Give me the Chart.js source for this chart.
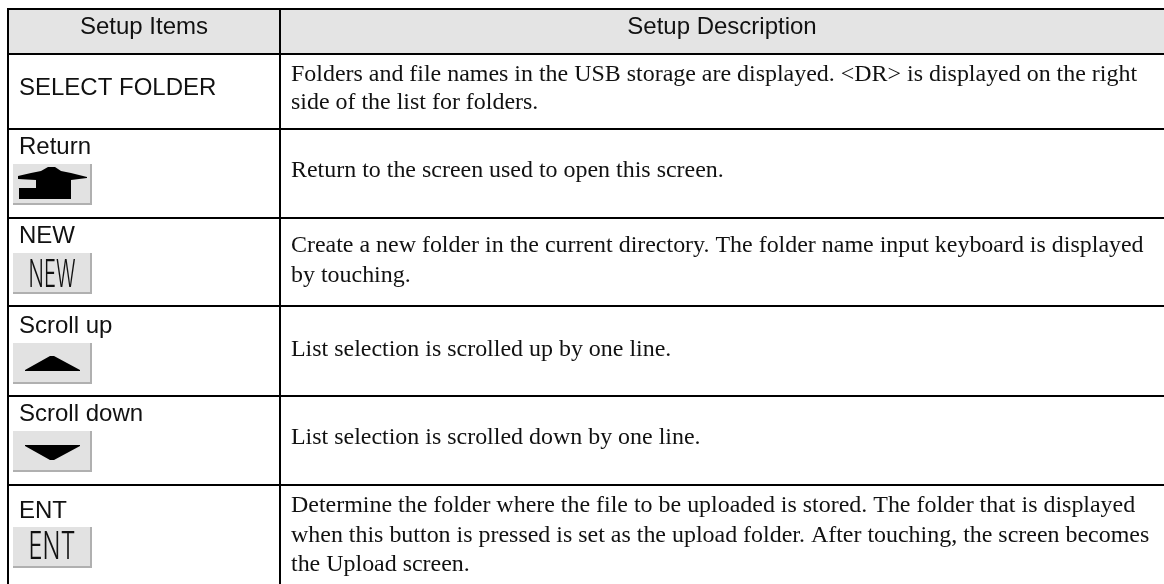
<!DOCTYPE html>
<html>
<head>
<meta charset="utf-8">
<style>
  html, body { margin: 0; padding: 0; background: #fff; }
  canvas { display: block; }
</style>
<script src="https://cdn.jsdelivr.net/npm/chart.js@4"></script>
</head>
<body>
<canvas id="tableChart" width="1164" height="584"></canvas>
<script>
// table rules, in axis units
const columnEdges = [8, 280];
const rowEdges = [9, 54, 129, 218, 306, 396, 485];

const headers = ['Setup Items', 'Setup Description'];
const itemLabels = ['SELECT FOLDER', 'Return', 'NEW', 'Scroll up', 'Scroll down', 'ENT'];
const itemBaselines = [95, 154, 243, 333, 421, 518];
const descriptionLines = [
    ['Folders and file names in the USB storage are displayed. <DR> is displayed on the right', 'side of the list for folders.'],
    ['Return to the screen used to open this screen.'],
    ['Create a new folder in the current directory. The folder name input keyboard is displayed', 'by touching.'],
    ['List selection is scrolled up by one line.'],
    ['List selection is scrolled down by one line.'],
    ['Determine the folder where the file to be uploaded is stored. The folder that is displayed', 'when this button is pressed is set as the upload folder. After touching, the screen becomes', 'the Upload screen.']
];
const descriptionBaselines = [[81, 109], [177], [252, 282], [356], [444], [512, 542, 571]];

// button tops per row, null for the row with no button
const buttonTops = [null, 164, 253, 343, 431, 527];
const buttonCaptions = [null, null, 'NEW', null, null, 'ENT'];
const captionBaselines = [null, null, 287, null, null, 559];

const returnIconX = [18, 31, 41, 48, 55, 61, 71, 87, 87, 71, 71, 19, 19, 36, 36, 18];
const returnIconY = [176, 173, 171, 167, 167, 171, 173, 177, 178, 180, 199, 199, 188, 188, 180, 179];
const upIconX = [25, 50, 54, 80, 80, 25];
const upIconY = [370, 356, 356, 370, 371, 371];
const downIconX = [25, 80, 80, 54, 50, 25];
const downIconY = [445, 445, 446, 460, 460, 446];

function shape(xs, ys, color) {
    return {
        data: xs.map((x, i) => ({ x: x, y: ys[i] })),
        showLine: true,
        fill: 'shape',
        backgroundColor: color,
        borderWidth: 0,
        pointRadius: 0
    };
}

function box(left, top, right, bottom, color) {
    return shape([left, right, right, left], [top, top, bottom, bottom], color);
}

const datasets = [box(8, 9, 1164, 54, '#e4e4e4')];
buttonTops.forEach(top => {
    if (top === null) return;
    datasets.push(box(13, top, 92, top + 41, '#b0b0b0'));
    datasets.push(box(13, top, 90, top + 39, '#e2e2e2'));
});
datasets.push(shape(returnIconX, returnIconY, '#000'));
datasets.push(shape(upIconX, upIconY, '#000'));
datasets.push(shape(downIconX, downIconY, '#000'));
// the library paints the first dataset last
datasets.reverse();

const tableText = {
    id: 'tableText',
    afterDatasetsDraw(chart) {
        const ctx = chart.ctx;
        const x = chart.scales.x;
        const y = chart.scales.y;
        ctx.save();
        ctx.fillStyle = '#111';
        ctx.textBaseline = 'alphabetic';

        ctx.font = '24px "Liberation Sans"';
        ctx.textAlign = 'center';
        ctx.fillText(headers[0], x.getPixelForValue(144), y.getPixelForValue(34));
        ctx.fillText(headers[1], x.getPixelForValue(722), y.getPixelForValue(34));

        ctx.textAlign = 'left';
        itemLabels.forEach((label, i) => {
            ctx.fillText(label, x.getPixelForValue(19), y.getPixelForValue(itemBaselines[i]));
        });

        ctx.font = '23.94px "Liberation Serif"';
        descriptionLines.forEach((lines, i) => {
            lines.forEach((line, j) => {
                ctx.fillText(line, x.getPixelForValue(291), y.getPixelForValue(descriptionBaselines[i][j]));
            });
        });

        // narrow lettering on the NEW and ENT buttons
        ctx.font = '300 38px Inter';
        ctx.textAlign = 'center';
        buttonCaptions.forEach((caption, i) => {
            if (!caption) return;
            ctx.save();
            ctx.translate(x.getPixelForValue(52), y.getPixelForValue(captionBaselines[i]));
            ctx.scale(47 / ctx.measureText(caption).width, 1);
            ctx.fillText(caption, 0, 0);
            ctx.restore();
        });
        ctx.restore();
    }
};

new Chart(document.getElementById('tableChart'), {
    type: 'scatter',
    data: { datasets: datasets },
    plugins: [tableText],
    options: {
        responsive: false,
        animation: false,
        layout: { padding: { left: 7, top: 8, right: 0, bottom: 0 } },
        plugins: { legend: { display: false }, tooltip: { enabled: false } },
        scales: {
            x: {
                type: 'linear',
                min: 7,
                max: 1164,
                afterBuildTicks: axis => { axis.ticks = columnEdges.map(v => ({ value: v })); },
                ticks: { display: false },
                grid: { color: '#000', lineWidth: 2, drawTicks: false, z: 1 },
                border: { display: false }
            },
            y: {
                type: 'linear',
                reverse: true,
                min: 8,
                max: 584,
                afterBuildTicks: axis => { axis.ticks = rowEdges.map(v => ({ value: v })); },
                ticks: { display: false },
                grid: { color: '#000', lineWidth: 2, drawTicks: false, z: 1 },
                border: { display: false }
            }
        }
    }
});
</script>
</body>
</html>
